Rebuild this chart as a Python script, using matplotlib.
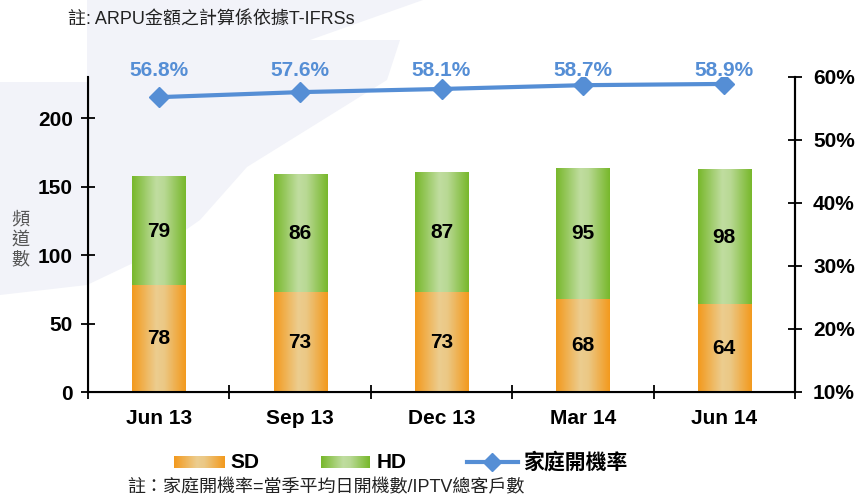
import matplotlib
matplotlib.use('Agg')
import matplotlib.pyplot as plt
import numpy as np
from matplotlib.patches import Polygon
from matplotlib.colors import LinearSegmentedColormap

plt.rcParams['font.family'] = ['Liberation Sans', 'Noto Sans CJK TC', 'DejaVu Sans']

quarters = ['Jun 13', 'Sep 13', 'Dec 13', 'Mar 14', 'Jun 14']
sd = [78, 73, 73, 68, 64]
hd = [79, 86, 87, 95, 98]
rate = [56.8, 57.6, 58.1, 58.7, 58.9]

orange_map = LinearSegmentedColormap.from_list(
    'sd', [(0, '#F39A1E'), (0.45, '#ECCD8F'), (0.6, '#EBC885'), (1, '#F39A1E')])
green_map = LinearSegmentedColormap.from_list(
    'hd', [(0, '#78B82C'), (0.45, '#C0DDA0'), (0.6, '#B9D995'), (1, '#78B82C')])
blue = '#558ED5'
grad = np.linspace(0, 1, 64).reshape(1, -1)

W, H = 858, 497
fig = plt.figure(figsize=(W / 100, H / 100), dpi=100, facecolor='white')

# background layer in pixel coordinates
bg = fig.add_axes([0, 0, 1, 1], zorder=0)
bg.axis('off')
bg.add_patch(Polygon([(87, 0), (423, 0), (310, 40), (400, 40), (387, 80), (247, 167),
                      (200, 220), (150, 255), (87, 285), (0, 295), (0, 82), (87, 82)],
                     closed=True, facecolor='#F2F3F9', edgecolor='none'))

ax = fig.add_axes([88 / W, 1 - 392 / H, (795 - 88) / W, (392 - 77) / H], zorder=1)
ax.patch.set_visible(False)

x = np.arange(len(quarters))
bw = 0.375
for i in range(len(quarters)):
    ax.imshow(grad, cmap=orange_map, aspect='auto', interpolation='bicubic',
              extent=[x[i] - bw / 2, x[i] + bw / 2, 0, sd[i]], zorder=2)
    ax.imshow(grad, cmap=green_map, aspect='auto', interpolation='bicubic',
              extent=[x[i] - bw / 2, x[i] + bw / 2, sd[i], sd[i] + hd[i]], zorder=2)
    ax.text(x[i], sd[i] / 2, str(sd[i]), ha='center', va='center',
            fontsize=15, fontweight='bold', zorder=3)
    ax.text(x[i], sd[i] + hd[i] / 2, str(hd[i]), ha='center', va='center',
            fontsize=15, fontweight='bold', zorder=3)

ax.set_xlim(-0.5, len(quarters) - 0.5)
ax.set_ylim(0, 230)
ax.set_yticks([0, 50, 100, 150, 200])
ax.set_xticks(x)
ax.set_xticklabels(quarters, fontsize=15, fontweight='bold')
ax.set_xticks(np.arange(-0.5, len(quarters), 1), minor=True)
ax.tick_params(axis='x', which='major', length=0, pad=12)
ax.tick_params(axis='x', which='minor', direction='inout', length=10, width=1.3)
ax.tick_params(axis='y', direction='inout', length=10, width=1.3, pad=6, labelsize=15)
for lbl in ax.get_yticklabels():
    lbl.set_fontweight('bold')
ax.spines['top'].set_visible(False)
for s in ['left', 'right', 'bottom']:
    ax.spines[s].set_linewidth(1.5)

ax2 = ax.twinx()
ax2.plot(x, rate, color=blue, linewidth=3, marker='D', markersize=10, zorder=4)
for xi, r in zip(x, rate):
    ax2.annotate(f'{r:.1f}%', (xi, 1), xycoords=('data', 'axes fraction'),
                 xytext=(0, 5), textcoords='offset points',
                 ha='center', va='center', fontsize=15, fontweight='bold', color=blue)
ax2.set_ylim(10, 60)
ax2.set_yticks([10, 20, 30, 40, 50, 60])
ax2.set_yticklabels([f'{v}%' for v in [10, 20, 30, 40, 50, 60]],
                    fontsize=15, fontweight='bold')
ax2.tick_params(axis='y', direction='inout', length=10, width=1.3, pad=8)
ax2.spines['top'].set_visible(False)
ax2.spines['right'].set_linewidth(1.5)

# texts
bg.text(68, 20, '註: ARPU金額之計算係依據T-IFRSs', fontsize=13, color='#222222',
        ha='left', va='center')
bg.text(20, 240, '頻\n道\n數', fontsize=13, color='#555555', ha='center', va='center',
        linespacing=1.25)
bg.text(127, 488, '註：家庭開機率=當季平均日開機數/IPTV總客戶數', fontsize=13,
        color='#222222', ha='left', va='center')

# legend
bg.imshow(grad, cmap=orange_map, aspect='auto', extent=[174, 225, 468, 456], zorder=2)
bg.text(230, 463, 'SD', fontsize=15, fontweight='bold', ha='left', va='center')
bg.imshow(grad, cmap=green_map, aspect='auto', extent=[321, 370, 468, 456], zorder=2)
bg.text(377, 463, 'HD', fontsize=15, fontweight='bold', ha='left', va='center')
bg.plot([467, 518], [462, 462], color=blue, linewidth=3)
bg.plot([492], [462], color=blue, marker='D', markersize=9)
bg.text(523, 462, '家庭開機率', fontsize=15, fontweight='bold', ha='left', va='center')
bg.set_xlim(0, W)
bg.set_ylim(H, 0)

fig.savefig('out.png', dpi=100, facecolor='white')
